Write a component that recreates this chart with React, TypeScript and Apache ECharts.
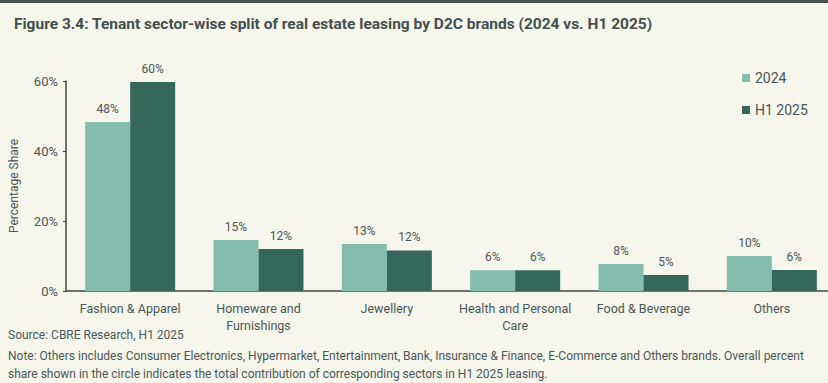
import React, { useEffect, useRef } from "react";
import * as echarts from "echarts";

const categories = [
  "Fashion & Apparel",
  "Homeware and\nFurnishings",
  "Jewellery",
  "Health and Personal\nCare",
  "Food & Beverage",
  "Others",
];
const series2024 = [48.3, 14.6, 13.4, 5.9, 7.7, 10.0];
const seriesH12025 = [59.7, 12.0, 11.6, 5.9, 4.6, 6.0];
const seriesNames = ["2024", "H1 2025"];
const yTicks = [0, 20, 40, 60];

const titleText =
  "Figure 3.4: Tenant sector-wise split of real estate leasing by D2C brands (2024 vs. H1 2025)";
const sourceText = "Source: CBRE Research, H1 2025";
const noteLine1 =
  "Note: Others includes Consumer Electronics, Hypermarket, Entertainment, Bank, Insurance & Finance, E-Commerce and Others brands. Overall percent";
const noteLine2 =
  "share shown in the circle indicates the total contribution of corresponding sectors in H1 2025 leasing.";

const TEXT = "#4b5758";
const FONT = "Roboto";

export default function App() {
  const ref = useRef<HTMLDivElement>(null);
  useEffect(() => {
    if (!ref.current) return;
    const chart = echarts.init(ref.current, undefined, { renderer: "svg" });
    const labelCfg = {
      show: true,
      position: "top",
      distance: 7,
      color: TEXT,
      fontSize: 12,
      fontFamily: FONT,
      formatter: (p: any) => Math.round(p.value) + "%",
    };
    chart.setOption({
      animation: false,
      backgroundColor: "#f6f6ec",
      title: {
        text: titleText,
        left: 9,
        top: 11,
        textStyle: { fontFamily: FONT, fontWeight: "bold", fontSize: 15.5, color: "#44504f" },
      },
      legend: {
        orient: "vertical",
        left: 737,
        top: 66,
        itemWidth: 8,
        itemHeight: 8,
        itemGap: 18,
        icon: "rect",
        textStyle: { color: TEXT, fontSize: 14, fontFamily: FONT },
        data: seriesNames,
      },
      grid: { left: 63, top: 81, width: 773, height: 210, containLabel: false },
      xAxis: {
        type: "category",
        data: categories,
        axisLine: { lineStyle: { color: "#3d4a4a", width: 1.5 } },
        axisTick: { show: false },
        axisLabel: { color: TEXT, fontSize: 12.5, fontFamily: FONT, margin: 9, lineHeight: 17, interval: 0 },
      },
      yAxis: {
        type: "value",
        min: yTicks[0],
        max: yTicks[yTicks.length - 1],
        interval: 20,
        name: "Percentage Share",
        nameLocation: "middle",
        nameGap: 46,
        nameTextStyle: { color: TEXT, fontSize: 12, fontFamily: FONT },
        axisLine: { show: true, lineStyle: { color: "#3d4a4a", width: 1.5 } },
        axisTick: { show: true, length: 3, lineStyle: { color: "#3d4a4a" } },
        splitLine: { show: false },
        axisLabel: { color: TEXT, fontSize: 13, fontFamily: FONT, margin: 8, formatter: "{value}%" },
      },
      series: [
        {
          name: seriesNames[0],
          type: "bar",
          data: series2024,
          barWidth: 45,
          barGap: "0%",
          itemStyle: { color: "#84bcae" },
          label: labelCfg,
        },
        {
          name: seriesNames[1],
          type: "bar",
          data: seriesH12025,
          barWidth: 45,
          barGap: "0%",
          itemStyle: { color: "#36675b" },
          label: labelCfg,
        },
      ],
      graphic: [
        { type: "rect", left: 0, top: 0, shape: { width: 840, height: 3 }, style: { fill: "#45524f" } },
        {
          type: "text",
          left: 8,
          top: 329,
          style: { text: sourceText, fill: TEXT, fontSize: 12, fontFamily: FONT },
        },
        {
          type: "text",
          left: 8,
          top: 350,
          style: { text: noteLine1, fill: TEXT, fontSize: 12, fontFamily: FONT },
        },
        {
          type: "text",
          left: 8,
          top: 368,
          style: { text: noteLine2, fill: TEXT, fontSize: 12, fontFamily: FONT },
        },
      ],
    });
    return () => chart.dispose();
  }, []);
  return (
    <div
      ref={ref}
      style={{ position: "fixed", left: 0, top: 0, width: 840, height: 383 }}
    />
  );
}
